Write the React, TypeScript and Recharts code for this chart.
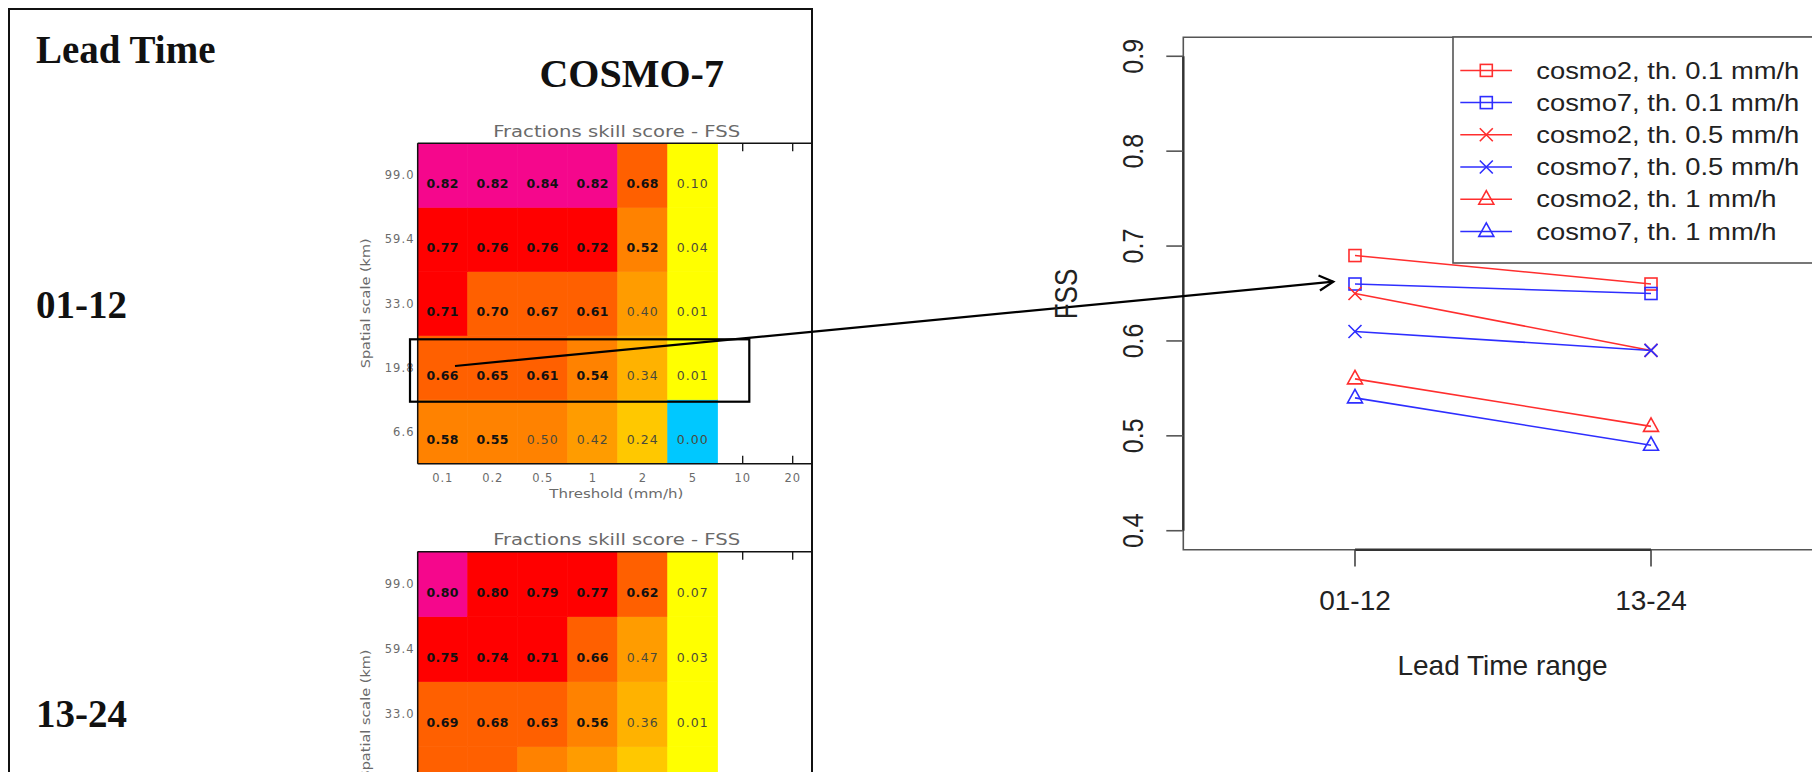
import React from 'react';
import {
  BarChart,
  Bar,
  LineChart,
  Line,
  XAxis,
  YAxis,
  Legend,
  ReferenceArea,
  ReferenceLine,
} from 'recharts';

// ---- left panel: COSMO-7 fractions skill score tables ----
const thresholds = ['0.1', '0.2', '0.5', '1', '2', '5', '10', '20'];
const spatialScales = ['99.0', '59.4', '33.0', '19.8', '6.6']; // printed top row first

// lead time 01-12
const fss0112: (number | null)[][] = [
  [0.82, 0.82, 0.84, 0.82, 0.68, 0.1],
  [0.77, 0.76, 0.76, 0.72, 0.52, 0.04],
  [0.71, 0.7, 0.67, 0.61, 0.4, 0.01],
  [0.66, 0.65, 0.61, 0.54, 0.34, 0.01],
  [0.58, 0.55, 0.5, 0.42, 0.24, 0.0],
];
// lead time 13-24 (bottom rows are cut off in the picture)
const fss1324: (number | null)[][] = [
  [0.8, 0.8, 0.79, 0.77, 0.62, 0.07],
  [0.75, 0.74, 0.71, 0.66, 0.47, 0.03],
  [0.69, 0.68, 0.63, 0.56, 0.36, 0.01],
  [0.65, 0.63, 0.59, 0.49, 0.27, 0.01],
  [null, null, null, null, null, null],
];

// colour class of every cell as shaded in the picture (index into fssPalette)
const class0112: (number | null)[][] = [
  [0, 0, 0, 0, 2, 7],
  [1, 1, 1, 1, 3, 7],
  [1, 2, 2, 2, 4, 7],
  [2, 2, 2, 3, 5, 7],
  [3, 3, 3, 4, 6, 8],
];
const class1324: (number | null)[][] = [
  [0, 1, 1, 1, 2, 7],
  [1, 1, 1, 2, 4, 7],
  [2, 2, 2, 3, 5, 7],
  [2, 2, 3, 4, 6, 7],
  [null, null, null, null, null, null],
];

const fssPalette = [
  '#f5078c', // >= 0.8
  '#ff0000', // 0.7
  '#ff6000', // 0.6
  '#ff8200', // 0.5
  '#ff9c00', // 0.4
  '#ffb200', // 0.3
  '#ffc800', // 0.2
  '#ffff00', // > 0
  '#00c8ff', // 0
];

// ---- right panel: FSS vs lead time ----
const leadTimes = ['01-12', '13-24'];
const fssTicks = [0.4, 0.5, 0.6, 0.7, 0.8, 0.9];

const cosmo2Th01 = [0.69, 0.66];
const cosmo7Th01 = [0.66, 0.65];
const cosmo2Th05 = [0.65, 0.59];
const cosmo7Th05 = [0.61, 0.59];
const cosmo2Th1 = [0.56, 0.51];
const cosmo7Th1 = [0.54, 0.49];

const RED = '#ff2e2e';
const BLUE = '#2e2eff';

type MarkerKind = 'square' | 'cross' | 'triangle';

const series: { key: string; name: string; values: number[]; color: string; marker: MarkerKind }[] = [
  { key: 'c2t01', name: 'cosmo2, th. 0.1 mm/h', values: cosmo2Th01, color: RED, marker: 'square' },
  { key: 'c7t01', name: 'cosmo7, th. 0.1 mm/h', values: cosmo7Th01, color: BLUE, marker: 'square' },
  { key: 'c2t05', name: 'cosmo2, th. 0.5 mm/h', values: cosmo2Th05, color: RED, marker: 'cross' },
  { key: 'c7t05', name: 'cosmo7, th. 0.5 mm/h', values: cosmo7Th05, color: BLUE, marker: 'cross' },
  { key: 'c2t1', name: 'cosmo2, th. 1 mm/h', values: cosmo2Th1, color: RED, marker: 'triangle' },
  { key: 'c7t1', name: 'cosmo7, th. 1 mm/h', values: cosmo7Th1, color: BLUE, marker: 'triangle' },
];

const lineData = leadTimes.map((lt, i) => {
  const row: Record<string, number | string> = { x: i + 1, lt };
  series.forEach((s) => (row[s.key] = s.values[i]));
  return row;
});

const SANS = '"Liberation Sans", Arial, sans-serif';
const IDL = '"DejaVu Sans", sans-serif';
const SERIF = '"Liberation Serif", "Times New Roman", serif';

function Marker({ kind, cx, cy, color }: { kind: MarkerKind; cx: number; cy: number; color: string }) {
  if (kind === 'square')
    return <rect x={cx - 6} y={cy - 6} width={12} height={12} fill="none" stroke={color} strokeWidth={1.6} />;
  if (kind === 'cross')
    return (
      <path
        d={`M${cx - 6.5},${cy - 6.5}L${cx + 6.5},${cy + 6.5}M${cx - 6.5},${cy + 6.5}L${cx + 6.5},${cy - 6.5}`}
        stroke={color}
        strokeWidth={1.6}
      />
    );
  return (
    <path d={`M${cx},${cy - 8.5}L${cx + 7.5},${cy + 5}L${cx - 7.5},${cy + 5}Z`} fill="none" stroke={color} strokeWidth={1.6} />
  );
}

function FssHeatmap({ top, rowH, values, classes }: {
  top: number;
  rowH: number;
  values: (number | null)[][];
  classes: (number | null)[][];
}) {
  const nRows = spatialScales.length;
  const nCols = values[0].length;
  // one stacked segment per grid cell, bottom row (6.6 km) first
  const data = thresholds.map((t, c) => {
    const d: Record<string, string | number | null> = { t };
    for (let k = 0; k < nRows; k++) d[`r${k}`] = c < nCols ? 1 : null;
    return d;
  });
  const rowCentres = spatialScales.map((_, k) => k + 0.5);
  const bottomUp = [...spatialScales].reverse();
  const plotH = rowH * nRows;
  const height = top + plotH + 120;
  const W = 900;

  const cellShape = (k: number) => (p: any) => {
    const r = nRows - 1 - k;
    const v = values[r][p.index];
    const cls = classes[r][p.index];
    if (v == null || cls == null) return <g key={`c-${k}-${p.index}`} />;
    const fill = fssPalette[cls];
    const strong = v > 0.5;
    return (
      <g key={`c-${k}-${p.index}`}>
        <rect x={p.x} y={p.y} width={p.width} height={p.height} fill={fill} stroke={fill} strokeWidth={0.6} />
        <text
          x={p.x + p.width / 2}
          y={p.y + p.height / 2 + 12.5}
          textAnchor="middle"
          fontFamily={IDL}
          fontSize={12.5}
          fontWeight={strong ? 700 : 400}
          letterSpacing={strong ? 0.4 : 1}
          fill={strong ? '#111' : '#4a4a3a'}
        >
          {v.toFixed(2)}
        </text>
      </g>
    );
  };

  const empty = (i: number) => values[0][i] === undefined;

  return (
    <div style={{ position: 'absolute', left: 0, top: 0 }}>
      <BarChart
        width={W}
        height={height}
        data={data}
        barCategoryGap={0}
        barGap={0}
        margin={{ top: top - 10, right: W - 377.7 - 40 - 400 - 10, bottom: height - top - plotH - 10, left: 377.7 }}
      >
        <XAxis
          dataKey="t"
          height={10}
          interval={0}
          tickSize={0}
          tickMargin={0}
          tickLine={false}
          axisLine={{ stroke: '#111', strokeWidth: 1.5 }}
          tick={(p: any) => (
            <g key={`bt-${p.index}`}>
              {empty(p.index) && <line x1={p.x} x2={p.x} y1={p.y} y2={p.y - 8} stroke="#111" strokeWidth={1.3} />}
              <text x={p.x} y={p.y + 18.5} textAnchor="middle" fontFamily={IDL} fontSize={11.5} letterSpacing={0.8} fill="#6b6b6b">
                {p.payload.value}
              </text>
            </g>
          )}
        />
        <XAxis
          xAxisId="top"
          orientation="top"
          dataKey="t"
          height={10}
          interval={0}
          tickSize={0}
          tickMargin={0}
          tickLine={false}
          axisLine={{ stroke: '#111', strokeWidth: 1.5 }}
          tick={(p: any) => (
            <g key={`tt-${p.index}`}>
              {empty(p.index) && <line x1={p.x} x2={p.x} y1={p.y} y2={p.y + 8} stroke="#111" strokeWidth={1.3} />}
            </g>
          )}
        />
        <YAxis
          type="number"
          domain={[0, nRows]}
          ticks={rowCentres}
          width={40}
          tickSize={0}
          tickMargin={0}
          tickLine={false}
          axisLine={{ stroke: '#111', strokeWidth: 1.5 }}
          tick={(p: any) => (
            <text
              key={`yl-${p.index}`}
              x={p.x - 3}
              y={p.y + 4}
              textAnchor="end"
              fontFamily={IDL}
              fontSize={11.5}
              letterSpacing={1.1}
              fill="#6b6b6b"
            >
              {bottomUp[p.index]}
            </text>
          )}
        />
        <YAxis
          yAxisId="right"
          orientation="right"
          type="number"
          domain={[0, nRows]}
          ticks={rowCentres}
          width={10}
          tickSize={0}
          tickMargin={0}
          tickLine={false}
          axisLine={false}
          tick={(p: any) => (
            <line key={`yr-${p.index}`} x1={p.x - 9} x2={p.x} y1={p.y} y2={p.y} stroke="#111" strokeWidth={1.3} />
          )}
        />
        {spatialScales.map((_, k) => (
          <Bar key={`r${k}`} dataKey={`r${k}`} stackId="grid" isAnimationActive={false} shape={cellShape(k)} />
        ))}
      </BarChart>
    </div>
  );
}

function LegendBox() {
  return (
    <svg width={380} height={227} style={{ display: 'block', overflow: 'visible' }}>
      <rect x={0} y={0} width={420} height={226} fill="#fff" stroke="#555" strokeWidth={1.6} />
      {series.map((s, i) => {
        const cy = 33.4 + i * 32.2;
        return (
          <g key={s.key}>
            <line x1={7.3} x2={59} y1={cy} y2={cy} stroke={s.color} strokeWidth={1.5} />
            <Marker kind={s.marker} cx={33.3} cy={cy} color={s.color} />
            <text
              transform={`translate(83.3,${cy + 8.2}) scale(1.19,1)`}
              fontFamily={SANS}
              fontSize={23}
              fill="#222"
            >
              {s.name}
            </text>
          </g>
        );
      })}
    </svg>
  );
}

function FssLines() {
  // chart box sits at page x 1000; plot spans 1183.3 .. 1822.7, 37.3 .. 549.7
  const W = 840;
  const H = 772;
  return (
    <div style={{ position: 'absolute', left: 1000, top: 0 }}>
      <LineChart width={W} height={H} data={lineData} margin={{ top: 37.3, right: 17.3, bottom: 162.3, left: 123.3 }}>
        <XAxis
          type="number"
          dataKey="x"
          domain={[0.42, 2.58]}
          allowDataOverflow
          ticks={[1, 2]}
          height={60}
          axisLine={false}
          tickSize={16.7}
          tickMargin={0}
          tickLine={{ stroke: '#444', strokeWidth: 1.6 }}
          tick={(p: any) => (
            <text key={`xt-${p.index}`} x={p.x} y={p.y + 43.6} textAnchor="middle" fontFamily={SANS} fontSize={28} fill="#222">
              {leadTimes[p.payload.value - 1]}
            </text>
          )}
        />
        <YAxis
          type="number"
          domain={[0.38, 0.92]}
          allowDataOverflow
          ticks={fssTicks}
          width={60}
          axisLine={false}
          tickSize={17}
          tickMargin={0}
          tickLine={{ stroke: '#555', strokeWidth: 1.6 }}
          tick={(p: any) => (
            <text
              key={`yt-${p.index}`}
              transform={`translate(${p.x - 33.8},${p.y}) rotate(-90) scale(1,1.2)`}
              y={9}
              textAnchor="middle"
              fontFamily={SANS}
              fontSize={25}
              fill="#222"
            >
              {Number(p.payload.value).toFixed(1)}
            </text>
          )}
        />
        <ReferenceArea x1={0.42} x2={2.58} y1={0.38} y2={0.92} fill="none" fillOpacity={0} stroke="#555" strokeWidth={1.6} ifOverflow="visible" />
        <ReferenceLine segment={[{ x: 1, y: 0.38 }, { x: 2, y: 0.38 }]} stroke="#333" strokeWidth={2.6} ifOverflow="visible" />
        <ReferenceLine segment={[{ x: 0.42, y: 0.4 }, { x: 0.42, y: 0.9 }]} stroke="#333" strokeWidth={2.4} ifOverflow="visible" />
        <Legend
          layout="vertical"
          align="center"
          verticalAlign="middle"
          wrapperStyle={{ left: 452.7, top: 37.3, width: 380, height: 227 }}
          content={() => <LegendBox />}
        />
        {series.map((s) => (
          <Line
            key={s.key}
            dataKey={s.key}
            name={s.name}
            stroke={s.color}
            strokeWidth={1.6}
            isAnimationActive={false}
            activeDot={false}
            dot={(p: any) => <Marker key={`${s.key}-${p.index}`} kind={s.marker} cx={p.cx} cy={p.cy} color={s.color} />}
          />
        ))}
      </LineChart>
    </div>
  );
}

export default function App() {
  // arrow from the highlighted 19.8 km row to the 01-12 points
  const ax0 = 455, ay0 = 366, ax1 = 1333.3, ay1 = 281.7;
  const th = Math.atan2(ay1 - ay0, ax1 - ax0);
  const barb = (d: number) => `${ax1 - 16 * Math.cos(th + d)},${ay1 - 16 * Math.sin(th + d)}`;
  const a = (28 * Math.PI) / 180;

  return (
    <div style={{ position: 'fixed', left: 0, top: 0, width: 1812, height: 772, overflow: 'hidden', background: '#fff' }}>
      <div style={{ position: 'absolute', left: 0, top: 0, width: 811, height: 772, overflow: 'hidden' }}>
        <FssHeatmap top={143.3} rowH={64.1} values={fss0112} classes={class0112} />
        <FssHeatmap top={551.7} rowH={65} values={fss1324} classes={class1324} />
      </div>
      <div
        style={{
          position: 'absolute',
          left: 8.3,
          top: 8.3,
          width: 805,
          height: 900,
          border: '2.7px solid #111',
          boxSizing: 'border-box',
        }}
      />
      <FssLines />
      <svg width={1812} height={772} style={{ position: 'absolute', left: 0, top: 0, pointerEvents: 'none' }}>
        <text x={36} y={63.3} fontFamily={SERIF} fontWeight={700} fontSize={39} fill="#111">Lead Time</text>
        <text x={631.7} y={86.7} textAnchor="middle" fontFamily={SERIF} fontWeight={700} fontSize={40} fill="#111">COSMO-7</text>
        <text x={36} y={318.3} fontFamily={SERIF} fontWeight={700} fontSize={39} fill="#111">01-12</text>
        <text x={36} y={726.7} fontFamily={SERIF} fontWeight={700} fontSize={39} fill="#111">13-24</text>

        {[136.7, 545].map((y) => (
          <text key={y} x={616.7} y={y} textAnchor="middle" fontFamily={IDL} fontSize={15} fill="#6a6a6a" textLength={247} lengthAdjust="spacingAndGlyphs">
            Fractions skill score - FSS
          </text>
        ))}
        <text x={616.3} y={498} textAnchor="middle" fontFamily={IDL} fontSize={12.5} fill="#6a6a6a" textLength={134} lengthAdjust="spacingAndGlyphs">
          Threshold (mm/h)
        </text>
        {[303.3, 714.5].map((cy) => (
          <text
            key={cy}
            transform={`translate(369.5,${cy}) rotate(-90)`}
            textAnchor="middle"
            fontFamily={IDL}
            fontSize={12.5}
            fill="#6a6a6a"
            textLength={130}
            lengthAdjust="spacingAndGlyphs"
          >
            Spatial scale (km)
          </text>
        ))}

        <rect x={410} y={339.3} width={339.3} height={62.4} fill="none" stroke="#000" strokeWidth={2.2} />
        <line x1={ax0} y1={ay0} x2={ax1} y2={ay1} stroke="#000" strokeWidth={2.2} />
        <polyline points={`${barb(a)} ${ax1},${ay1} ${barb(-a)}`} fill="none" stroke="#000" strokeWidth={2.2} />

        <text transform="translate(1065.7,294) rotate(-90) scale(1,1.2)" y={9.4} textAnchor="middle" fontFamily={SANS} fontSize={26} fill="#222">
          FSS
        </text>
        <text x={1502.5} y={675} textAnchor="middle" fontFamily={SANS} fontSize={28} fill="#222">
          Lead Time range
        </text>
      </svg>
    </div>
  );
}
